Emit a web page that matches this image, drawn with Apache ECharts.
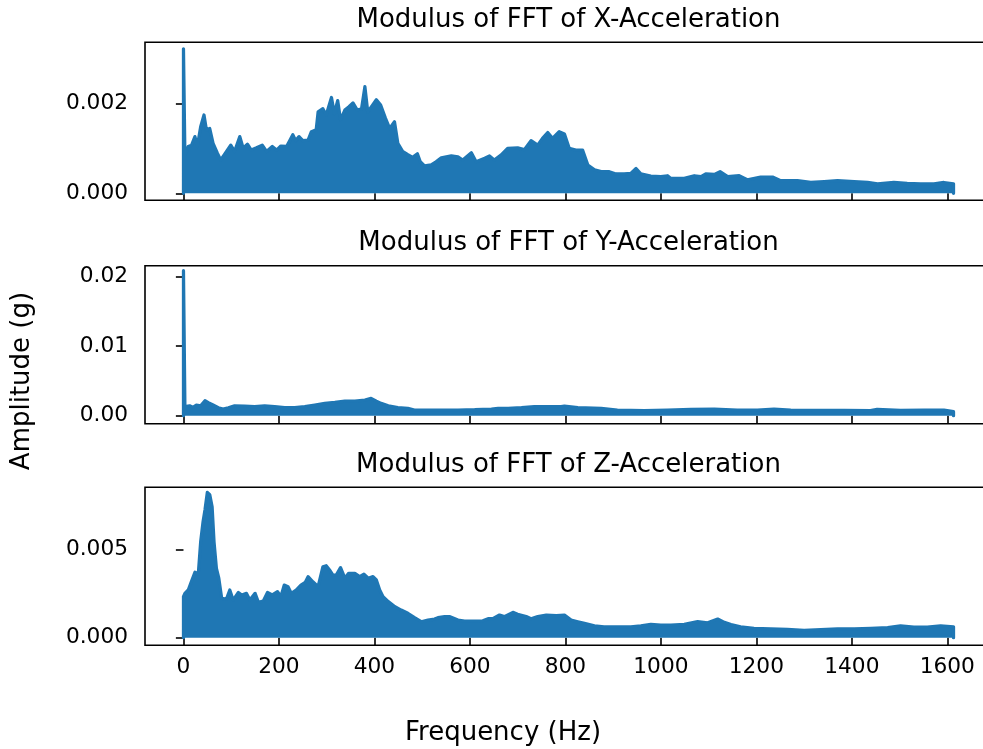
<!DOCTYPE html>
<html>
<head>
<meta charset="utf-8">
<script src="https://cdn.jsdelivr.net/npm/echarts@6/dist/echarts.min.js"></script>
<style>
html,body{margin:0;padding:0;background:#fff;}
#chart{width:983px;height:749px;}
</style>
</head>
<body>
<div id="chart"></div>
<script>
// ---- Data (upper envelope of |FFT|, band fills down to 0) ----
var titles = ['Modulus of FFT of X-Acceleration', 'Modulus of FFT of Y-Acceleration', 'Modulus of FFT of Z-Acceleration'];
var xLabel = 'Frequency (Hz)';
var yLabel = 'Amplitude (g)';
var freqTicks = [0, 200, 400, 600, 800, 1000, 1200, 1400, 1600];
var ampTicksX = [0, 0.002];
var ampTicksY = [0, 0.01, 0.02];
var ampTicksZ = [0, 0.005];

var freqX = [0,0,3,10,17,24,29,36,43,48,55,62,71,78,87,99,107,118,125,134,142,153,165,174,186,195,204,216,223,229,235,242,250,261,268,278,282,292,299,310,316,323,329,338,346,355,364,373,380,386,396,404,413,423,432,442,449,459,470,480,490,496,505,519,529,540,561,575,585,603,613,631,641,651,665,679,700,714,728,742,752,763,773,787,798,808,822,836,847,861,875,892,906,923,937,948,958,979,1000,1014,1021,1049,1070,1084,1094,1112,1124,1140,1164,1181,1209,1234,1251,1286,1314,1342,1370,1405,1433,1454,1488,1516,1544,1572,1593,1613,1613];
var ampX = [0,0.00321,0.00085,0.00104,0.00107,0.00126,0.00104,0.00148,0.00174,0.00141,0.00144,0.00111,0.00089,0.00074,0.00088,0.00107,0.00093,0.00126,0.00100,0.00109,0.00096,0.00101,0.00107,0.00093,0.00104,0.00096,0.00105,0.00104,0.00118,0.00130,0.00117,0.00126,0.00117,0.00118,0.00137,0.00141,0.00181,0.00188,0.00174,0.00213,0.00177,0.00206,0.00163,0.00185,0.00192,0.00201,0.00185,0.00188,0.00237,0.00181,0.00196,0.00208,0.00196,0.00167,0.00144,0.00159,0.00111,0.00093,0.00086,0.00080,0.00088,0.00070,0.00061,0.00063,0.00070,0.00079,0.00083,0.00081,0.00074,0.00090,0.00070,0.00078,0.00083,0.00074,0.00085,0.00100,0.00101,0.00097,0.00117,0.00107,0.00122,0.00135,0.00122,0.00137,0.00132,0.00100,0.00096,0.00096,0.00063,0.00052,0.00048,0.00048,0.00043,0.00043,0.00044,0.00055,0.00043,0.00038,0.00037,0.00039,0.00033,0.00033,0.00039,0.00037,0.00043,0.00042,0.00048,0.00037,0.00039,0.00030,0.00036,0.00036,0.00028,0.00028,0.00024,0.00026,0.00028,0.00026,0.00024,0.00021,0.00024,0.00022,0.00021,0.00021,0.00024,0.00021,0];

var freqY = [0,0,3,13,20,27,36,45,52,62,73,83,94,107,128,149,170,191,212,233,254,275,296,317,338,359,380,393,404,414,429,449,470,484,512,540,575,610,645,659,680,708,735,763,791,798,826,875,909,965,1014,1063,1112,1160,1202,1237,1272,1328,1384,1439,1453,1502,1551,1593,1613,1613];
var ampY = [0,0.02086,0.0013,0.00143,0.0012,0.00153,0.00143,0.00216,0.00187,0.00153,0.00115,0.00096,0.00115,0.00143,0.00139,0.0013,0.00143,0.0013,0.00115,0.00115,0.0013,0.00153,0.00177,0.00191,0.0021,0.0021,0.00225,0.0025,0.0021,0.00177,0.00143,0.00115,0.00105,0.00082,0.00082,0.00082,0.00082,0.00086,0.00096,0.00105,0.00105,0.00115,0.0013,0.0013,0.0013,0.00139,0.00115,0.00105,0.00082,0.00072,0.00082,0.00091,0.00096,0.00082,0.00082,0.00096,0.00082,0.00077,0.00077,0.00072,0.00091,0.00077,0.00082,0.00082,0.00058,0];

var freqZ = [0,0,3,10,17,24,31,36,41,45,50,55,60,64,69,74,80,90,97,104,115,122,132,139,150,157,167,176,186,197,204,211,219,226,236,246,255,261,271,282,292,299,306,313,320,329,338,346,359,369,378,387,397,404,411,418,429,443,456,470,484,498,512,526,533,547,557,575,589,610,627,638,648,662,672,690,700,718,728,742,760,781,798,812,826,840,861,881,909,937,958,979,1000,1021,1049,1077,1098,1119,1133,1147,1167,1195,1230,1265,1300,1335,1370,1405,1440,1475,1502,1530,1558,1586,1613,1613];
var ampZ = [0,0.00233,0.00252,0.00271,0.00322,0.00372,0.00361,0.00545,0.00659,0.00726,0.00826,0.00813,0.00744,0.00545,0.00394,0.00338,0.00224,0.0022,0.00271,0.00214,0.00257,0.00243,0.00252,0.00214,0.00252,0.00201,0.00208,0.00257,0.00243,0.00262,0.00233,0.00299,0.0029,0.00252,0.00271,0.00299,0.00314,0.00347,0.00318,0.0029,0.00403,0.00409,0.00385,0.00356,0.00356,0.00398,0.00338,0.00366,0.00366,0.00347,0.00361,0.00338,0.00347,0.00328,0.00271,0.00233,0.00205,0.00176,0.00157,0.00139,0.00114,0.00091,0.001,0.00106,0.00114,0.0012,0.0012,0.001,0.00095,0.00095,0.00096,0.00108,0.00108,0.00129,0.0012,0.00144,0.00133,0.0012,0.00108,0.0012,0.00129,0.00125,0.00129,0.001,0.00091,0.00082,0.00068,0.00062,0.00062,0.00062,0.00068,0.00076,0.00072,0.00072,0.00076,0.00091,0.00085,0.00106,0.00087,0.00075,0.00062,0.00053,0.0005,0.00047,0.00042,0.00046,0.0005,0.0005,0.00053,0.00057,0.00068,0.0006,0.0006,0.00068,0.00062,0];

// ---- Layout / style ----
var FONT = 'DejaVu Sans';
var BLUE = '#1f77b4';
var gridTops = [42.3, 265.7, 487.3];
var gridH = 158;
var yRanges = [[-0.000156, 0.003356], [-0.00115, 0.02158], [-0.00043, 0.008545]];
var yTicks = [ampTicksX, ampTicksY, ampTicksZ];
var yDec = [3, 2, 3];
var freqs = [freqX, freqY, freqZ];
var amps = [ampX, ampY, ampZ];

function pairs(f, a) { return f.map(function (v, i) { return [v, a[i]]; }); }

var grids = [], xAxes = [], yAxes = [], series = [], titleArr = [];
for (var k = 0; k < 3; k++) {
  grids.push({ left: 145, width: 847, top: gridTops[k], height: gridH, show: true,
    outerBoundsMode: 'none', containLabel: false,
    borderColor: '#000', borderWidth: 1.6, backgroundColor: 'transparent' });
  xAxes.push({ type: 'value', gridIndex: k, min: -80.6, max: 1693.6,
    axisLine: { show: false }, splitLine: { show: false },
    axisTick: { show: true, length: 7.6, customValues: freqTicks, lineStyle: { color: '#000', width: 1.6 } },
    axisLabel: { show: k === 2, customValues: freqTicks, margin: 11, color: '#000',
      fontFamily: FONT, fontSize: 21.7, formatter: function (v) { return String(Math.round(v)); } } });
  (function (dec) {
    yAxes.push({ type: 'value', gridIndex: k, min: yRanges[k][0], max: yRanges[k][1],
      axisLine: { show: false }, splitLine: { show: false },
      axisTick: { show: true, length: 7.6, customValues: yTicks[k], lineStyle: { color: '#000', width: 1.6 } },
      axisLabel: { show: true, customValues: yTicks[k], margin: 17, color: '#000',
        fontFamily: FONT, fontSize: 21.7, formatter: function (v) { return Number(v).toFixed(dec); } } });
  })(yDec[k]);
  series.push({ type: 'line', xAxisIndex: k, yAxisIndex: k, data: pairs(freqs[k], amps[k]),
    showSymbol: false, symbol: 'none', smooth: false,
    lineStyle: { color: BLUE, width: 3.25, join: 'round', cap: 'round' },
    areaStyle: { color: BLUE, opacity: 1, origin: 0 },
    emphasis: { disabled: true }, z: 2 });
  titleArr.push({ text: titles[k], left: 568.5, textAlign: 'center', top: gridTops[k] - 35, padding: 0,
    textStyle: { fontFamily: FONT, fontSize: 26, fontWeight: 'normal', color: '#000' } });
}

var chart = echarts.init(document.getElementById('chart'), null, { renderer: 'canvas' });
chart.setOption({
  animation: false,
  backgroundColor: '#fff',
  title: titleArr,
  grid: grids,
  xAxis: xAxes,
  yAxis: yAxes,
  series: series,
  graphic: [
    { type: 'text', x: 503, y: 733, style: { text: xLabel, fontFamily: FONT, fontSize: 26, fill: '#000', textAlign: 'center', textVerticalAlign: 'middle' } },
    { type: 'text', x: 22, y: 381, rotation: Math.PI / 2, style: { text: yLabel, fontFamily: FONT, fontSize: 26, fill: '#000', textAlign: 'center', textVerticalAlign: 'middle' } }
  ]
});
</script>
</body>
</html>
